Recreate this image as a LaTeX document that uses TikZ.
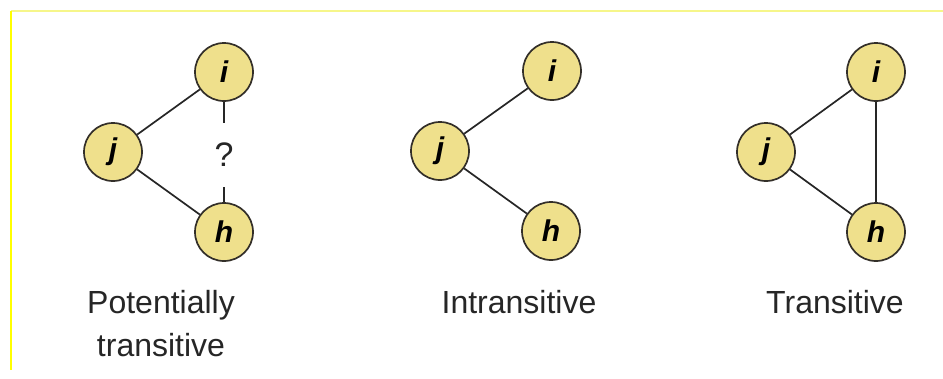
\documentclass[tikz,border=0pt]{standalone}
\usepackage{fontspec}
\setmainfont{Liberation Sans}
\begin{document}
\begin{tikzpicture}[x=1pt,y=-1pt,
  vertex/.style={circle, draw=black!85!olive, line width=1.7pt, fill=nodefill,
    minimum size=58pt, inner sep=0pt, font=\fontsize{30}{30}\selectfont\bfseries\itshape},
  edge/.style={draw=black!85, line width=1.7pt},
  caption/.style={font=\fontsize{32}{43}\selectfont, text=black!85, align=center}]
\definecolor{nodefill}{HTML}{EFE08C}
\definecolor{frameyellow}{HTML}{FFFF00}
\definecolor{paleyellow}{HTML}{F6F68A}
\useasboundingbox (0,0) rectangle (943,378);
\fill[white] (0,0) rectangle (943,378);
% frame lines
\draw[paleyellow, line width=1.2pt] (11,11) -- (943,11);
\draw[frameyellow, line width=1.2pt] (11,11) -- (11,370);

% potentially transitive
\node[vertex] (i1) at (224,72) {i};
\node[vertex] (j1) at (113,152) {j};
\node[vertex] (h1) at (224,232) {h};
\node[font=\fontsize{34}{34}\selectfont, text=black!85, inner sep=0pt, minimum height=64pt] (q1) at (224,155) {?};
\draw[edge] (j1) -- (i1);
\draw[edge] (j1) -- (h1);
\draw[edge] (i1) -- (q1);
\draw[edge] (q1) -- (h1);
\node[caption] (c1) at (161,324) {Potentially\\transitive};

% intransitive
\node[vertex] (i2) at (552,71) {i};
\node[vertex] (j2) at (440,151) {j};
\node[vertex] (h2) at (551,231) {h};
\draw[edge] (j2) -- (i2);
\draw[edge] (j2) -- (h2);
\node[caption] (c2) at (519,302) {Intransitive};

% transitive
\node[vertex] (i3) at (876,72) {i};
\node[vertex] (j3) at (766,152) {j};
\node[vertex] (h3) at (876,232) {h};
\draw[edge] (j3) -- (i3);
\draw[edge] (j3) -- (h3);
\draw[edge] (i3) -- (h3);
\node[caption] (c3) at (835,302) {Transitive};
\end{tikzpicture}
\end{document}
